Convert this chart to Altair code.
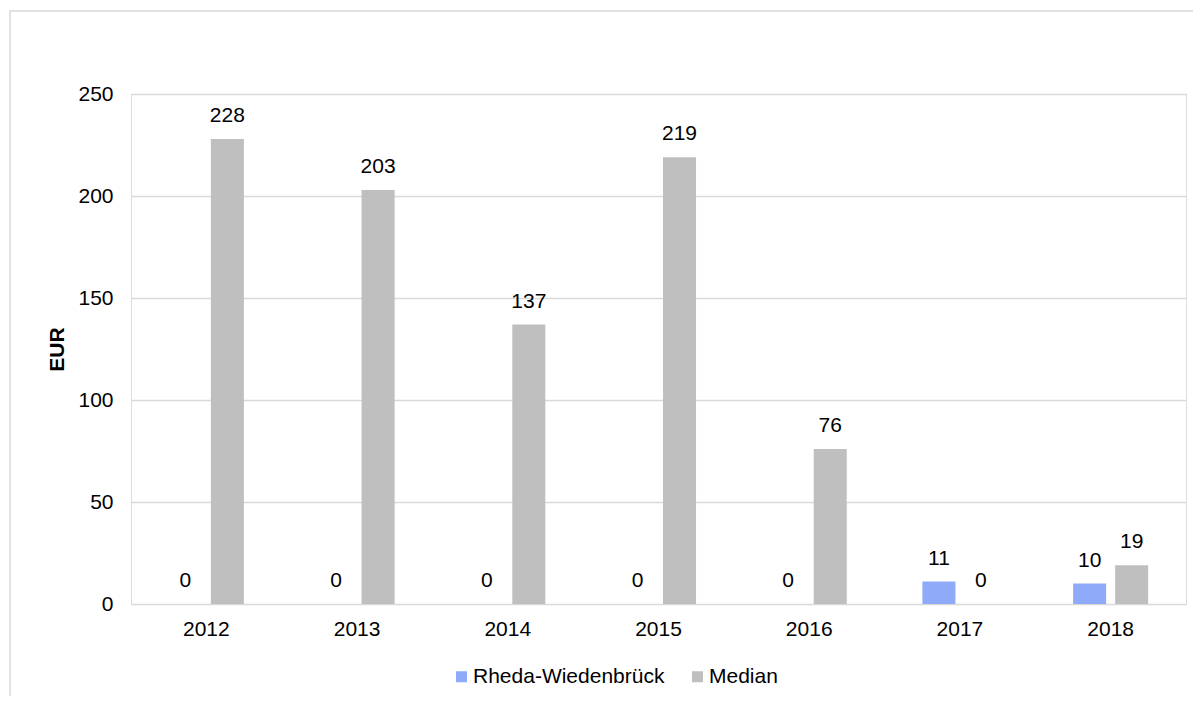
import altair as alt
import pandas as pd

years = ["2012", "2013", "2014", "2015", "2016", "2017", "2018"]
series_names = ["Rheda-Wiedenbrück", "Median"]
rheda = [0, 0, 0, 0, 0, 11, 10]
median = [228, 203, 137, 219, 76, 0, 19]
colors = ["#8FAAF8", "#BFBFBF"]

rows = []
for i, y in enumerate(years):
    rows.append({"Jahr": y, "Serie": series_names[0], "Wert": rheda[i]})
    rows.append({"Jahr": y, "Serie": series_names[1], "Wert": median[i]})
df = pd.DataFrame(rows)

FONT = "Liberation Sans"

x_enc = alt.X("Jahr:N", sort=years,
              scale=alt.Scale(paddingInner=0, paddingOuter=0),
              axis=alt.Axis(title=None, labelAngle=0, domain=False, ticks=False,
                            labelPadding=14, labelFontSize=21, labelColor="#000000",
                            labelFont=FONT))
xoff = alt.XOffset("Serie:N", sort=series_names,
                   scale=alt.Scale(domain=series_names, paddingInner=0.214, paddingOuter=0.9))
y_enc = alt.Y("Wert:Q",
              scale=alt.Scale(domain=[0, 250], nice=False, zero=True),
              axis=alt.Axis(values=[0, 50, 100, 150, 200, 250], title="EUR",
                            titleFont=FONT, titleFontSize=21, titleFontWeight="bold",
                            titleColor="#000000", titleX=-74, titleY=255,
                            titleAlign="center", titleBaseline="middle",
                            domain=False, ticks=False, labelPadding=18,
                            labelFontSize=21, labelColor="#000000", labelFont=FONT,
                            gridColor="#D9D9D9", gridWidth=1.3))

color_enc = alt.Color("Serie:N", sort=series_names,
                      scale=alt.Scale(domain=series_names, range=colors),
                      legend=alt.Legend(title=None, orient="none", direction="horizontal",
                                        legendX=320, legendY=572,
                                        symbolType="square", symbolSize=121,
                                        symbolStrokeWidth=0, labelLimit=0,
                                        labelFontSize=21, labelFont=FONT,
                                        labelColor="#000000", labelOffset=1,
                                        columnPadding=22))

bars = alt.Chart(df).mark_bar().encode(
    x=x_enc, xOffset=xoff, y=y_enc, color=color_enc
)

labels = alt.Chart(df).mark_text(
    baseline="alphabetic", dy=-17, fontSize=21, font=FONT, color="#000000"
).encode(
    x=alt.X("Jahr:N", sort=years),
    xOffset=alt.XOffset("Serie:N", sort=series_names),
    y="Wert:Q",
    text=alt.Text("Wert:Q", format="d"),
)

frame = alt.Chart(pd.DataFrame({"f": [0]})).mark_rect(
    fill=None, stroke="#D9D9D9", strokeWidth=1.5
).encode(
    x=alt.value(-121), x2=alt.value(3000), y=alt.value(-83), y2=alt.value(3000)
)

chart = alt.layer(frame, bars, labels).properties(
    width=1055, height=510,
    autosize=alt.AutoSizeParams(type="none"),
    padding={"left": 123, "top": 86, "right": 7, "bottom": 92},
).configure_view(stroke=None).configure(font=FONT)

chart.save("out.html", embed_options={"renderer": "svg", "actions": False})
